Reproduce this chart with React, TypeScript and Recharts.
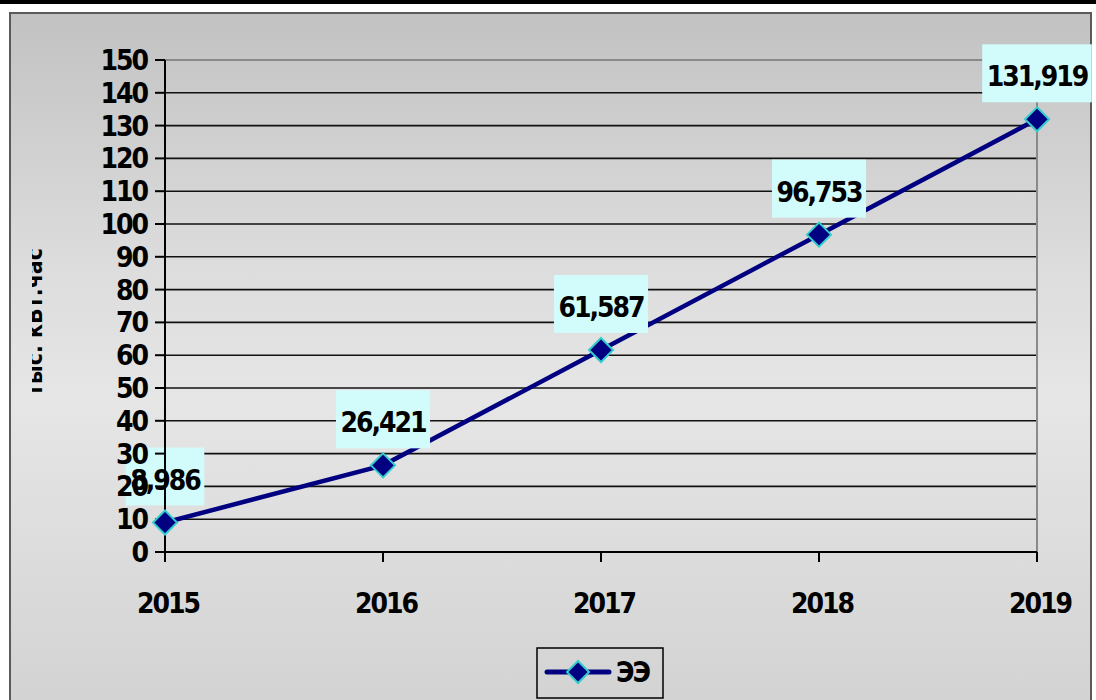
import { CartesianGrid, LabelList, Line, LineChart, ReferenceLine, XAxis, YAxis } from 'recharts';

const years = ['2015', '2016', '2017', '2018', '2019'];
const energy = [8.986, 26.421, 61.587, 96.753, 131.919];
const yTicks = [0, 10, 20, 30, 40, 50, 60, 70, 80, 90, 100, 110, 120, 130, 140, 150];
const seriesName = 'ЭЭ';
const unitLabel = 'тыс. кВт.час';

const data = years.map((year, i) => ({ year, value: energy[i] }));

const FONT = "'DejaVu Sans Condensed', 'DejaVu Sans', sans-serif";
const NAVY = '#000080';
const CYAN = '#33cccc';

const fmt = (v: number) => v.toFixed(3).replace('.', ',');

const textStyle = {
  fontFamily: FONT,
  fontWeight: 700,
  fontSize: 28,
  letterSpacing: -2,
  fontStretch: 'condensed' as const,
};

const YTick = ({ x, y, payload }: any) => (
  <text x={x} y={y} dy={10} textAnchor="end" fill="#000" style={textStyle}>
    {payload.value}
  </text>
);

const XTick = ({ x, y, payload }: any) => (
  <text x={x + 3} y={y} dy={10} textAnchor="middle" fill="#000" style={textStyle}>
    {payload.value}
  </text>
);

const diamond = (cx: number, cy: number, r: number) =>
  `M${cx},${cy - r} L${cx + r},${cy} L${cx},${cy + r} L${cx - r},${cy} Z`;

const Dot = (props: any) => {
  const { cx, cy, index } = props;
  if (cx == null || cy == null) return null;
  return <path key={`dot-${index}`} d={diamond(cx, cy, 12)} fill={NAVY} stroke={CYAN} strokeWidth={2} />;
};

// value label on a pale cyan box above each point
const ValueLabel = (props: any) => {
  const { x, y, value } = props;
  const label = fmt(Number(value));
  const digits = label.replace(',', '').length;
  const w = digits * 15.5 + 7.6 + 9;
  return (
    <g>
      <rect x={x - w / 2} y={y - 75} width={w} height={58} fill="#d2fcfc" />
      <text x={x} y={y - 43} dy={10} textAnchor="middle" fill="#000" style={textStyle}>
        {label}
      </text>
    </g>
  );
};

export default function App() {
  return (
    <div
      style={{
        position: 'absolute',
        left: 0,
        top: 0,
        width: 1096,
        height: 700,
        overflow: 'hidden',
        background: '#fff',
      }}
    >
      <div style={{ position: 'absolute', left: 0, top: 0, width: 1096, height: 4, background: '#000' }} />
      <div
        style={{
          position: 'absolute',
          left: 9,
          top: 12,
          width: 1079,
          height: 700,
          border: '2px solid #5a5a5a',
          background: 'linear-gradient(180deg, #c2c2c2 0%, #dcdcdc 35%, #e6e6e6 55%, #d2d2d2 100%)',
        }}
      />

      {/* axis title, partly hidden behind the frame edge */}
      <svg style={{ position: 'absolute', left: 32, top: 240, overflow: 'hidden' }} width={12} height={170}>
        <text
          transform="translate(10, 82) rotate(-90)"
          textAnchor="middle"
          fill="#000"
          style={{ fontFamily: FONT, fontWeight: 700, fontSize: 23, fontStretch: 'condensed' }}
        >
          {unitLabel}
        </text>
      </svg>

      <div style={{ position: 'absolute', left: 0, top: 0 }}>
        <LineChart width={1096} height={700} data={data} margin={{ top: 60, right: 59, bottom: 88, left: 105 }}>
          <CartesianGrid vertical={false} stroke="#111" strokeWidth={1.6} />
          <XAxis
            dataKey="year"
            scale="point"
            padding={{ left: 0, right: 0 }}
            height={60}
            tickSize={10}
            tickMargin={41}
            tick={<XTick />}
            axisLine={{ stroke: '#000', strokeWidth: 2 }}
            tickLine={{ stroke: '#000', strokeWidth: 2 }}
          />
          <YAxis
            width={60}
            domain={[0, 150]}
            ticks={yTicks}
            interval={0}
            tickSize={10}
            tickMargin={8}
            tick={<YTick />}
            axisLine={{ stroke: '#000', strokeWidth: 2 }}
            tickLine={{ stroke: '#000', strokeWidth: 2 }}
          />
          <ReferenceLine y={150} stroke="#8a8a8a" strokeWidth={2} />
          <ReferenceLine x="2019" stroke="#8a8a8a" strokeWidth={2} />
          <Line
            dataKey="value"
            name={seriesName}
            stroke={NAVY}
            strokeWidth={4.5}
            dot={<Dot />}
            activeDot={false}
            isAnimationActive={false}
          >
            <LabelList dataKey="value" content={<ValueLabel />} zIndex={450} />
          </Line>
        </LineChart>
      </div>

      {/* legend */}
      <svg style={{ position: 'absolute', left: 0, top: 0, pointerEvents: 'none' }} width={1096} height={700}>
        <rect x={537} y={648} width={126} height={50} fill="none" stroke="#000" strokeWidth={1.5} />
        <line x1={547} y1={672} x2={609} y2={672} stroke={NAVY} strokeWidth={5} strokeLinecap="round" />
        <path d={diamond(578, 672, 11)} fill={NAVY} stroke={CYAN} strokeWidth={2} />
        <text x={616} y={682} fill="#000" style={textStyle}>
          {seriesName}
        </text>
      </svg>
    </div>
  );
}
